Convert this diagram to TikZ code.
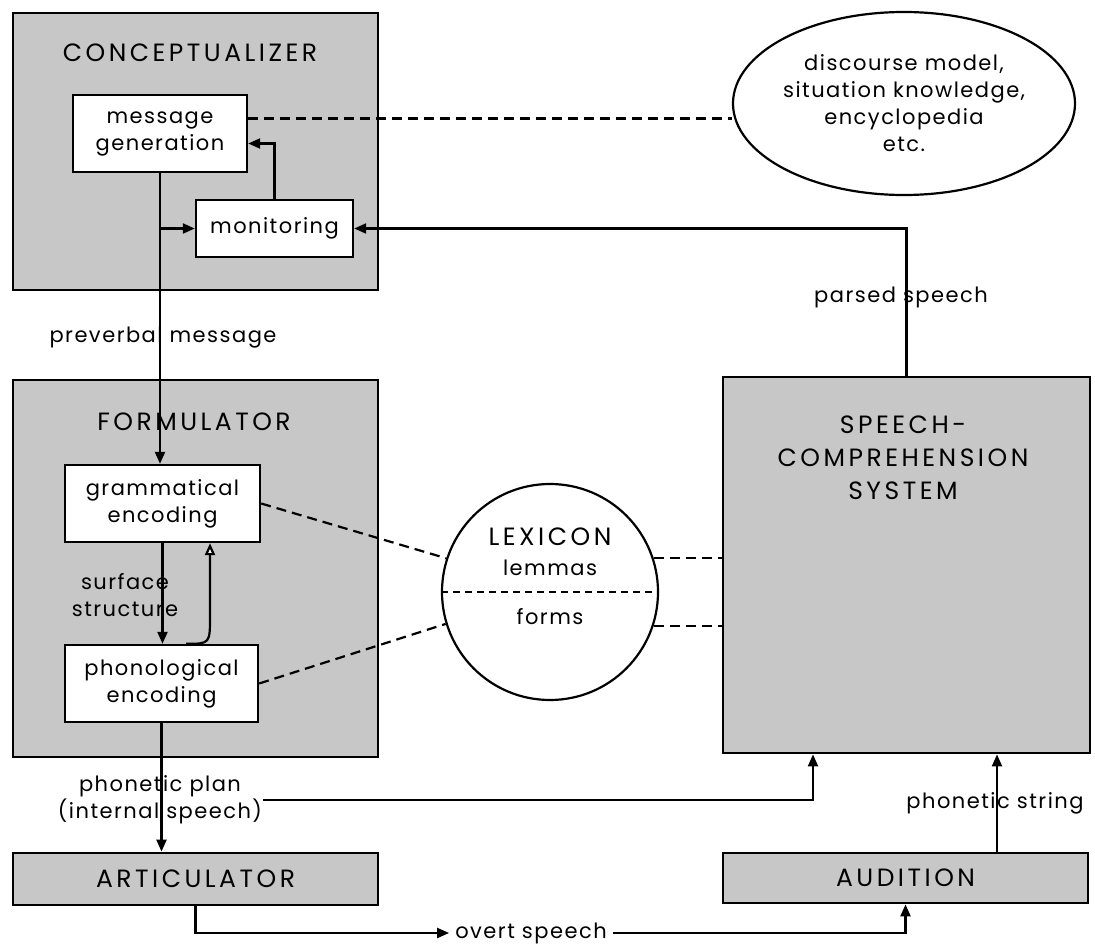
\documentclass[tikz,border=0pt]{standalone}
\usepackage{fontspec}
\setmainfont{Poppins}[LetterSpace=7]
\newfontfamily\titlefont{Poppins}[LetterSpace=14]
\usetikzlibrary{arrows.meta,shapes.geometric}

\begin{document}
\begin{tikzpicture}[x=1pt,y=-1pt,
  panel/.style={draw, line width=2.8pt, fill=black!22},
  unit/.style={draw, line width=2.4pt, fill=white, align=center, inner sep=0pt},
  title/.style={font=\titlefont\fontsize{25}{33}\selectfont},
  lbl/.style={align=center, inner sep=1pt},
  arr/.style={line width=2.2pt, -{Triangle[length=12pt,width=10pt]}},
  openarr/.style={line width=2.2pt, -{Triangle[fill=white,length=12pt,width=10pt]}},
  dashlink/.style={line width=2.2pt, dash pattern=on 10pt off 6pt},
  font=\fontsize{21}{27}\selectfont]
  \useasboundingbox (0,0) rectangle (1095,947);

  % Conceptualizer
  \node[panel, minimum width=365pt, minimum height=277pt] (concept) at (195.5,151.5) {};
  \node[title] (concepttitle) at (190,53) {CONCEPTUALIZER};
  \node[unit, minimum width=174pt, minimum height=77pt] (msggen) at (160,133.5) {message\\generation};
  \node[unit, minimum width=157pt, minimum height=57pt] (monitor) at (274.5,228.5) {monitoring};

  % Knowledge store
  \node[draw, ellipse, line width=2.2pt, minimum width=272pt, minimum height=183pt,
        align=center, inner sep=0pt] (knowledge) at (904,103.5)
        {discourse model,\\situation knowledge,\\encyclopedia\\etc.};

  % Formulator
  \node[panel, minimum width=365pt, minimum height=377pt] (formul) at (195.5,568.5) {};
  \node[title] (formultitle) at (194,422) {FORMULATOR};
  \node[unit, minimum width=195pt, minimum height=77pt] (gramenc) at (162.5,503.5) {grammatical\\encoding};
  \node[unit, minimum width=193pt, minimum height=77pt] (phonenc) at (161.5,683.5) {phonological\\encoding};

  % Lexicon
  \node[draw, circle, line width=2.2pt, minimum size=216pt] (lexicon) at (550,592) {};
  \node[title] (lextitle) at (550,537) {LEXICON};
  \node (lemmas) at (550,568) {lemmas};
  \node (forms) at (550,617) {forms};

  % Speech-comprehension system
  \node[panel, minimum width=367pt, minimum height=376pt] (speechcomp) at (906.5,565) {};
  \node[title, align=center] (speechtitle) at (903,458) {SPEECH-\\COMPREHENSION\\SYSTEM};

  % Articulator and audition
  \node[panel, title, minimum width=365pt, minimum height=52pt] (artic) at (195.5,879) {ARTICULATOR};
  \node[panel, title, minimum width=365pt, minimum height=50pt] (audition) at (905.5,878) {AUDITION};

  % Labels
  \node[lbl] (preverbal) at (163,338) {preverbal message};
  \node[lbl, fill=black!22] (surface) at (125,595) {surface\\structure};
  \node[lbl] (parsed) at (901,297) {parsed speech};
  \node[lbl] (plan) at (160,800) {phonetic plan\\(internal speech)};
  \node[lbl] (phonstring) at (995,803) {phonetic string};
  \node[lbl, inner sep=6pt] (overt) at (531,933) {overt speech};

  % Conceptualizer links
  \draw[arr] (msggen.south) -- (msggen.south |- gramenc.north);
  \coordinate (branch) at (msggen.south |- monitor.west);
  \draw[arr] (branch) -- (monitor.west);
  \draw[arr] (monitor.north) |- ([yshift=-10pt]msggen.east);
  \coordinate (msgdash) at ([yshift=15pt]msggen.east);
  \draw[dashlink] (msgdash) -- (msgdash -| knowledge.west);
  \draw[arr] (speechcomp.north) |- (monitor.east);

  % Formulator links
  \draw[arr] (gramenc.south) -- (gramenc.south |- phonenc.north);
  \draw[openarr] ([xshift=24.5pt]phonenc.north) .. controls ([xshift=48.5pt]phonenc.north)
    .. ([xshift=48.5pt,yshift=28pt]phonenc.north) -- ([xshift=47.5pt]gramenc.south);
  \draw[dashlink] (gramenc.east) -- (lexicon.162);
  \draw[dashlink] (phonenc.east) -- (lexicon.197);

  % Lexicon links
  \draw[line width=1.8pt, dash pattern=on 7pt off 5pt] (lexicon.west) -- (lexicon.east);
  \draw[dashlink] (lexicon.18) -- (lexicon.18 -| speechcomp.west);
  \draw[dashlink] (lexicon.-18) -- (lexicon.-18 -| speechcomp.west);

  % Output and input
  \draw[arr] (phonenc.south) -- (phonenc.south |- artic.north);
  \draw[arr] (plan.east) -| ([xshift=-93.5pt]speechcomp.south);
  \coordinate (stringfoot) at ([xshift=91.5pt]audition.north);
  \draw[arr] (stringfoot) -- (stringfoot |- speechcomp.south);
  \draw[arr] (artic.south) |- (overt.west);
  \draw[arr] (overt.east) -| (audition.south);
\end{tikzpicture}
\end{document}
